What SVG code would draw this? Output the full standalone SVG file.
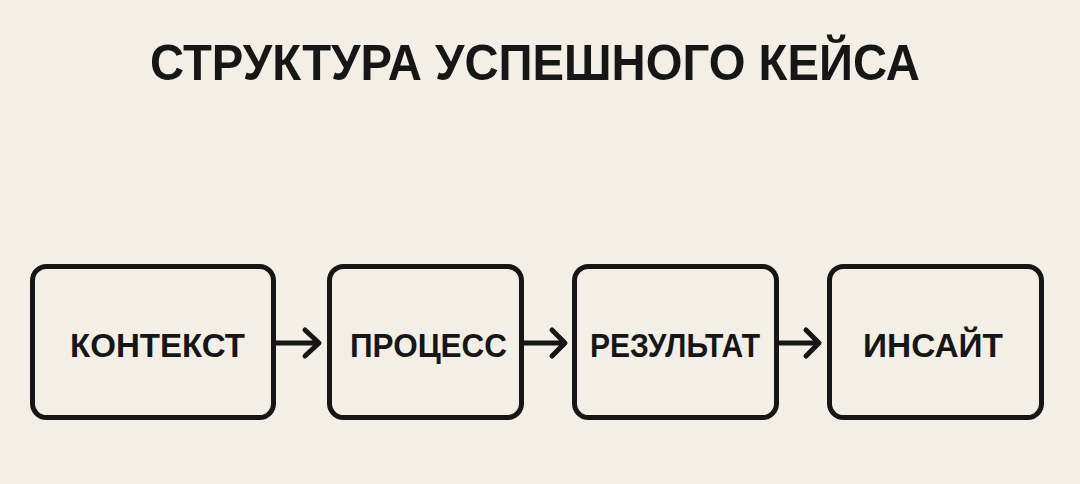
<svg xmlns="http://www.w3.org/2000/svg" width="1080" height="484" viewBox="0 0 1080 484">
<style>
.box{fill:none;stroke:#161616;stroke-width:5}
.lbl{font-family:"Liberation Sans",Arial,sans-serif;font-weight:bold;font-size:34px;fill:#161616;text-anchor:middle}
.title{font-family:"Liberation Sans",Arial,sans-serif;font-weight:bold;font-size:50px;fill:#161616;text-anchor:middle}
.conn{fill:none;stroke:#161616;stroke-width:5;stroke-linecap:round;stroke-linejoin:round}
</style>
<rect width="1080" height="484" fill="#f3efe6"/>
<text class="title" x="535" y="80" textLength="770" lengthAdjust="spacingAndGlyphs">СТРУКТУРА УСПЕШНОГО КЕЙСА</text>
<g id="n1"><rect class="box" x="32.5" y="266.5" width="241" height="151" rx="14"/><text class="lbl" x="157.5" y="357" textLength="175" lengthAdjust="spacingAndGlyphs">КОНТЕКСТ</text></g>
<g id="n2"><rect class="box" x="329.5" y="266.5" width="192" height="151" rx="14"/><text class="lbl" x="428.5" y="357" textLength="157" lengthAdjust="spacingAndGlyphs">ПРОЦЕСС</text></g>
<g id="n3"><rect class="box" x="574.5" y="266.5" width="202" height="151" rx="14"/><text class="lbl" x="675" y="357" textLength="170" lengthAdjust="spacingAndGlyphs">РЕЗУЛЬТАТ</text></g>
<g id="n4"><rect class="box" x="829.5" y="266.5" width="212" height="151" rx="14"/><text class="lbl" x="933" y="357" textLength="140" lengthAdjust="spacingAndGlyphs">ИНСАЙТ</text></g>
<g id="connectors">
<path class="conn" d="M274 343 H318 M305 330 L319 343 L305 356"/>
<path class="conn" d="M522 343 H564 M552 330 L565 343 L552 356"/>
<path class="conn" d="M777 343 H818 M806 330 L819 343 L806 356"/>
</g>
</svg>
